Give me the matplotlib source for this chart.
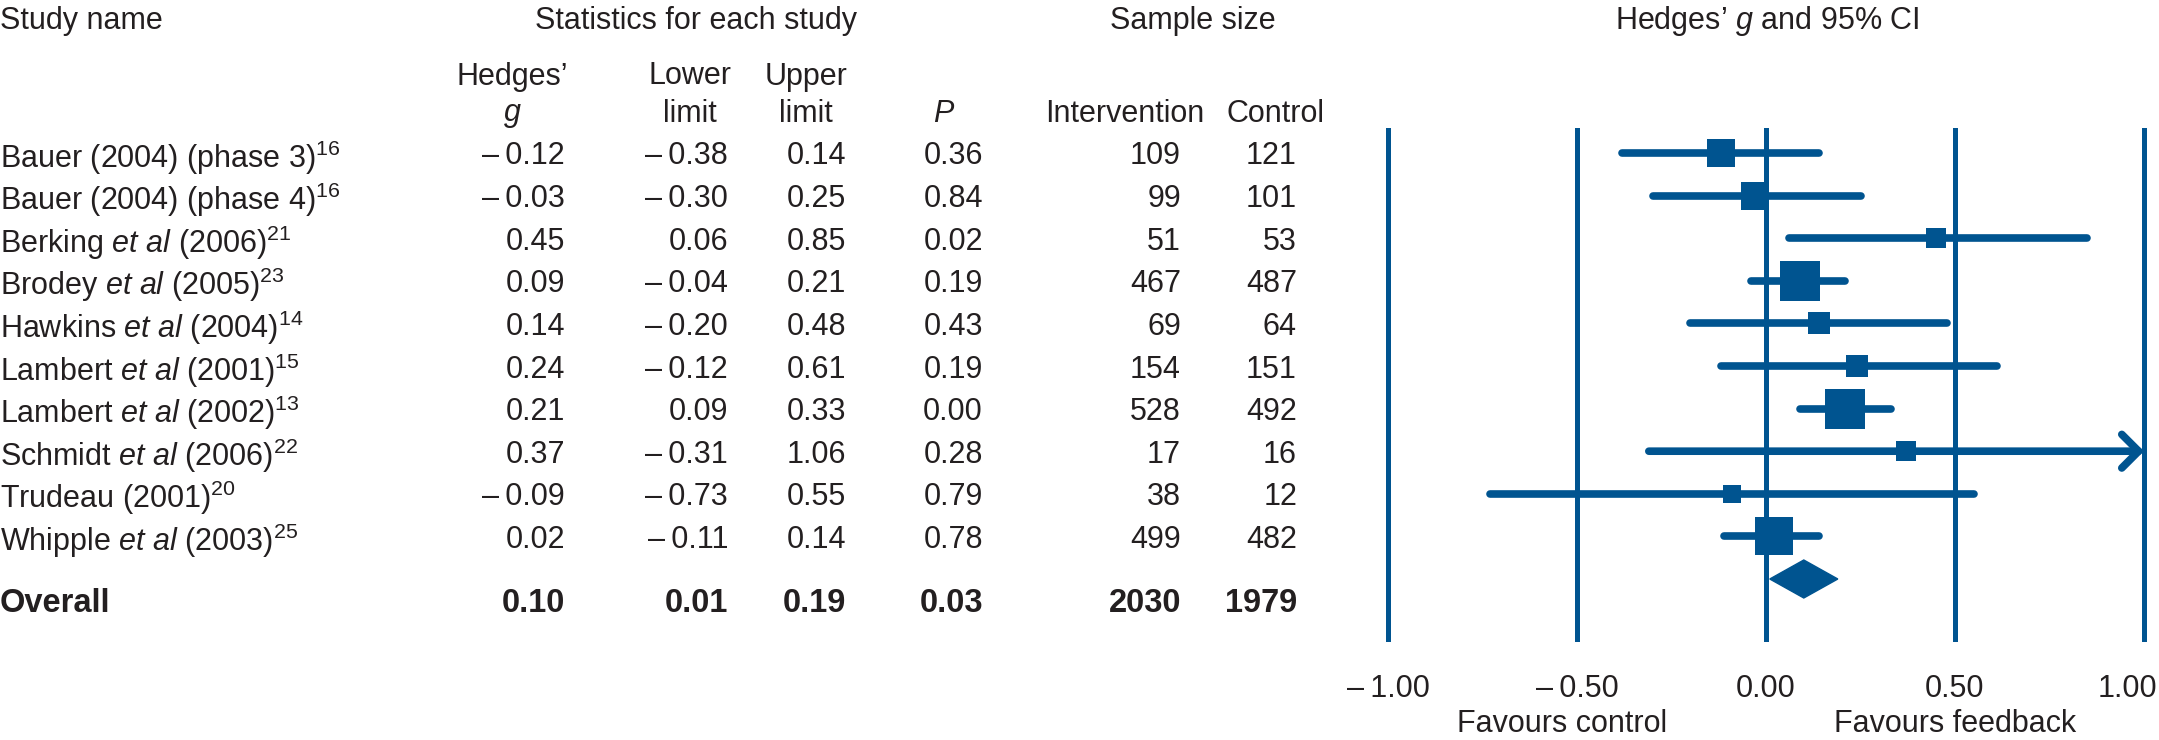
import numpy as np
import matplotlib
matplotlib.use("Agg")
import matplotlib.pyplot as plt
from matplotlib import font_manager
from matplotlib.transforms import ScaledTranslation

avail = {f.name for f in font_manager.fontManager.ttflist}
FONT = "Liberation Sans Narrow" if "Liberation Sans Narrow" in avail else "Liberation Sans"
plt.rcParams["font.family"] = [FONT, "DejaVu Sans"]
plt.rcParams["mathtext.fontset"] = "custom"
plt.rcParams["mathtext.rm"] = FONT
plt.rcParams["mathtext.it"] = FONT + ":italic"
plt.rcParams["mathtext.bf"] = FONT + ":bold"

# data
studies = [r"Bauer (2004) (phase 3)$^{16}$",
           r"Bauer (2004) (phase 4)$^{16}$",
           r"Berking $\mathit{et\ al}$ (2006)$^{21}$",
           r"Brodey $\mathit{et\ al}$ (2005)$^{23}$",
           r"Hawkins $\mathit{et\ al}$ (2004)$^{14}$",
           r"Lambert $\mathit{et\ al}$ (2001)$^{15}$",
           r"Lambert $\mathit{et\ al}$ (2002)$^{13}$",
           r"Schmidt $\mathit{et\ al}$ (2006)$^{22}$",
           r"Trudeau (2001)$^{20}$",
           r"Whipple $\mathit{et\ al}$ (2003)$^{25}$"]
g = [-0.12, -0.03, 0.45, 0.09, 0.14, 0.24, 0.21, 0.37, -0.09, 0.02]
lower = [-0.38, -0.30, 0.06, -0.04, -0.20, -0.12, 0.09, -0.31, -0.73, -0.11]
upper = [0.14, 0.25, 0.85, 0.21, 0.48, 0.61, 0.33, 1.06, 0.55, 0.14]
pval = [0.36, 0.84, 0.02, 0.19, 0.43, 0.19, 0.00, 0.28, 0.79, 0.78]
n_int = [109, 99, 51, 467, 69, 154, 528, 17, 38, 499]
n_ctl = [121, 101, 53, 487, 64, 151, 492, 16, 12, 482]
weight = [9.4, 9.4, 5.2, 18.6, 6.2, 5.7, 18.6, 5.2, 4.2, 17.6]  # relative weight (%), from box sizes
overall = {"g": 0.10, "lower": 0.01, "upper": 0.19, "p": 0.03, "n_int": 2030, "n_ctl": 1979}
ticks = [-1.0, -0.5, 0.0, 0.5, 1.0]

BLUE = "#005490"
TXT = "#231f20"
FS = 22
FSB = 23.5
W, H = 2159, 740

def num(v):
    s = f"{abs(v):.2f}"
    return ("\u2013\u2009" + s) if v < 0 else s

fig = plt.figure(figsize=(W / 100, H / 100), dpi=100)

# table part: an axes in pixel coordinates
tx = fig.add_axes([0, 0, 1, 1])
tx.set_xlim(0, W)
tx.set_ylim(H, 0)
tx.axis("off")

row0, step = 153, 42.6
def rowpix(i):
    return row0 + i * step

kw = dict(fontsize=FS, color=TXT, va="center_baseline")
tx.text(0, 17, "Study name", ha="left", **kw)
tx.text(696, 17, "Statistics for each study", ha="center", **kw)
tx.text(1193, 17, "Sample size", ha="center", **kw)
tx.text(1767, 17, r"Hedges’ $\mathit{g}$ and 95% CI", ha="center", **kw)

tx.text(512, 73, "Hedges’", ha="center", **kw)
tx.text(512, 111, r"$\mathit{g}$", ha="center", **kw)
tx.text(690, 73, "Lower", ha="center", **kw)
tx.text(690, 111, "limit", ha="center", **kw)
tx.text(806, 73, "Upper", ha="center", **kw)
tx.text(806, 111, "limit", ha="center", **kw)
tx.text(944, 111, r"$\mathit{P}$", ha="center", **kw)
tx.text(1125, 111, "Intervention", ha="center", **kw)
tx.text(1276, 111, "Control", ha="center", **kw)

cols = [565, 728, 846, 983, 1181, 1297]
for i, name in enumerate(studies):
    y = rowpix(i)
    tx.text(0, y, name, ha="left", **kw)
    vals = [num(g[i]), num(lower[i]), num(upper[i]), f"{pval[i]:.2f}",
            str(n_int[i]), str(n_ctl[i])]
    for x, v in zip(cols, vals):
        tx.text(x, y, v, ha="right", **kw)

yo = 600
kwb = dict(kw, fontsize=FSB, fontweight="bold")
tx.text(0, yo, "Overall", ha="left", **kwb)
ovals = [num(overall["g"]), num(overall["lower"]), num(overall["upper"]),
         f"{overall['p']:.2f}", str(overall["n_int"]), str(overall["n_ctl"])]
for x, v in zip(cols, ovals):
    tx.text(x, yo, v, ha="right", **kwb)

# forest plot
top_px, bot_px, left_px = 128, 642, 1360
x_m1, x_p1 = 1388, 2144
sc = (x_p1 - x_m1) / 2.0
ax = fig.add_axes([left_px / W, 1 - bot_px / H, (W - left_px) / W, (bot_px - top_px) / H])
ax.set_xlim(-1 - (x_m1 - left_px) / sc, 1 + (W - x_p1) / sc)
ax.set_ylim((bot_px - row0) / step, (top_px - row0) / step)
ax.patch.set_alpha(0)
for s in ax.spines.values():
    s.set_visible(False)
ax.set_yticks([])
ax.set_xticks(ticks, [num(t) for t in ticks])
ax.tick_params(axis="x", length=0, pad=23, labelsize=FS, labelcolor=TXT)
last = ax.get_xticklabels()[-1]
last.set_horizontalalignment("right")
last.set_transform(last.get_transform() + ScaledTranslation(13 / 100, 0, fig.dpi_scale_trans))

for t in ticks:
    ax.axvline(t, color=BLUE, lw=3.6, zorder=1)

rows = np.arange(len(g))
for i in rows:
    lo, hi = lower[i], upper[i]
    if hi > 1.0:
        ax.annotate("", xy=(1.0, i), xytext=(lo, i),
                    arrowprops=dict(arrowstyle="->,head_length=0.55,head_width=0.55",
                                    mutation_scale=22, color=BLUE, lw=5.5,
                                    shrinkA=0, shrinkB=0,
                                    capstyle="round", joinstyle="round"),
                    zorder=2)
    else:
        ax.hlines(i, lo, hi, color=BLUE, lw=5.5, capstyle="round", zorder=2)
    side_px = 9.2 * np.sqrt(weight[i])
    ax.plot(g[i], i, marker="s", ms=side_px * 0.72, color=BLUE, mec=BLUE, mew=0, zorder=3)

# overall diamond
yd = len(g)
hd = 19 / step
ax.fill([overall["lower"], overall["g"], overall["upper"], overall["g"]],
        [yd, yd - hd, yd, yd + hd], color=BLUE, zorder=3)

xt = ax.get_xaxis_transform()
fy = (bot_px - 721) / (bot_px - top_px)
ax.text(-0.54, fy, "Favours control", transform=xt, ha="center", **kw)
ax.text(0.50, fy, "Favours feedback", transform=xt, ha="center", **kw)

fig.savefig("out.png", dpi=100)
